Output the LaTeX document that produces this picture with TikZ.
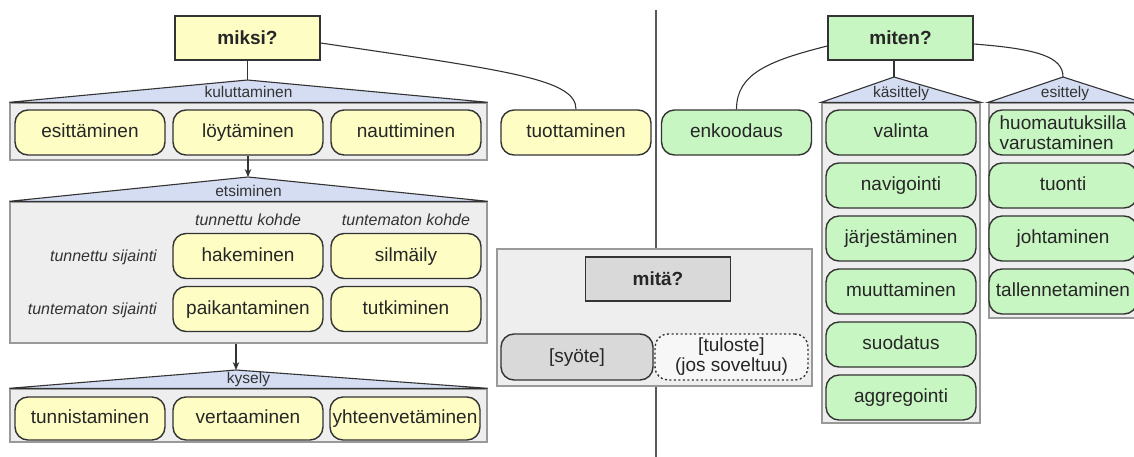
\documentclass[tikz,border=0pt]{standalone}
\usepackage{fontspec}
\setmainfont{Liberation Sans}
\usetikzlibrary{positioning, arrows, arrows.meta}
\definecolor{yfill}{HTML}{FDFDC4}
\definecolor{gfill}{HTML}{C8F6C2}
\definecolor{rooffill}{HTML}{D5DDF2}
\definecolor{grpfill}{HTML}{EEEEEE}
\definecolor{edge}{HTML}{333333}
\definecolor{qgray}{HTML}{D9D9D9}
\tikzset{
  % Set arrowhead
  >={Stealth[length=8pt, width=6.5pt]},
  % Action node
  act/.style={draw=edge, line width=1.4pt, rounded corners=13pt,
    minimum width=150pt, minimum height=45pt, inner sep=1pt,
    text height=14pt, text depth=4pt,
    align=center, text=black!85, font=\fontsize{19}{20}\selectfont},
  yact/.style={act, fill=yfill},
  gact/.style={act, fill=gfill},
  % Two lines of text in an action node
  twoline/.style={text height=, text depth=},
  % Question node
  qnode/.style={draw=edge, line width=1.4pt, minimum width=145pt,
    minimum height=44pt, text=black!85,
    font=\fontsize{19}{21}\selectfont\bfseries},
  % Group box
  grp/.style={draw=black!40, line width=1.4pt, fill=grpfill},
  % Roof over a group
  roof/.style={draw=edge, line width=1.1pt, fill=rooffill},
  rlabel/.style={inner sep=1pt, text height=11pt, text depth=3pt,
    text=black!80, font=\fontsize{15.5}{17}\selectfont},
  % Axis labels of the search grid
  axis/.style={inner sep=1pt, text=black!80,
    font=\fontsize{16}{18}\selectfont\itshape},
  % Connectors
  link/.style={draw=edge, line width=1.1pt},
  divider/.style={draw=black!65, line width=1.2pt},
}
\begin{document}
\begin{tikzpicture}[x=1pt, y=-1pt]
  \useasboundingbox (0,0) rectangle (1134,456);
  \draw[divider] (656,10) -- (656,460);

  % miksi?
  \node[qnode, fill=yfill] (miksi) at (247.5,38) {miksi?};

  \node[grp, minimum width=477pt, minimum height=57pt] (kul) at (248.5,131.5) {};
  \coordinate (kulTop) at (247.5,80);
  \draw[roof] (kul.north west) -- (kulTop) -- (kul.north east) -- cycle;
  \node[rlabel, above=1pt of kul.north] (kulLabel) {kuluttaminen};
  \draw[link] (miksi.south) -- (kulTop);
  \node[yact] (esit) at (90,132.5) {esittäminen};
  \node[yact] (loyt) at (248,132.5) {löytäminen};
  \node[yact] (naut) at (406,132.5) {nauttiminen};

  \node[yact] (tuot) at (576,132.5) {tuottaminen};
  \draw[link] ([yshift=-5pt]miksi.east) .. controls +(190,28) and +(0,-30) .. (tuot.north);

  \node[grp, minimum width=477pt, minimum height=141pt] (ets) at (248.5,272.5) {};
  \coordinate (etsTop) at (248,177);
  \draw[roof] (ets.north west) -- (etsTop) -- (ets.north east) -- cycle;
  \node[rlabel, above=1pt of ets.north] (etsLabel) {etsiminen};
  \draw[link, ->] (loyt.south) -- (etsTop);
  \node[axis] (kohde1) at (248,220) {tunnettu kohde};
  \node[axis] (kohde2) at (406,220) {tuntematon kohde};
  \node[axis, anchor=east] (sij1) at (158,257) {tunnettu sijainti};
  \node[axis, anchor=east] (sij2) at (158,310) {tuntematon sijainti};
  \node[yact] (hake) at (248,256) {hakeminen};
  \node[yact] (silm) at (406,256) {silmäily};
  \node[yact] (paik) at (248,309) {paikantaminen};
  \node[yact] (tutk) at (406,309) {tutkiminen};

  \node[grp, minimum width=477pt, minimum height=53pt] (kys) at (248.5,415.5) {};
  \coordinate (kysTop) at (236,370);
  \draw[roof] (kys.north west) -- (kysTop) -- (kys.north east) -- cycle;
  \node[rlabel, above=1pt of kys.north] (kysLabel) {kysely};
  \draw[link, ->] (ets.south -| kysTop) -- (kysTop);
  \node[yact, minimum height=43pt] (tunn) at (90,418.5) {tunnistaminen};
  \node[yact, minimum height=43pt] (vert) at (248,418.5) {vertaaminen};
  \node[yact, minimum height=43pt] (yhte) at (405,418.5) {yhteenvetäminen};

  % mitä?
  \node[grp, minimum width=315pt, minimum height=137pt] (mita) at (654.5,317.5) {};
  \node[qnode, fill=qgray] (mitaQ) at (658,279) {mitä?};
  \node[act, fill=qgray, minimum width=152pt, minimum height=46pt] (syote) at (577,357) {[syöte]};
  \node[act, twoline, fill=black!3, dash pattern=on 2pt off 2.5pt, minimum width=153pt,
    minimum height=46pt] (tulo) at (731.5,357) {[tuloste]\\(jos soveltuu)};

  % miten?
  \node[qnode, fill=gfill] (miten) at (900.5,38) {miten?};
  \node[gact] (enk) at (736.5,132.5) {enkoodaus};
  \draw[link] ([yshift=-8pt]miten.west) .. controls +(-60,15) and +(0,-35) .. (enk.north);

  \node[grp, minimum width=158pt, minimum height=320pt] (kas) at (901,263) {};
  \coordinate (kasTop) at (894,77);
  \draw[roof] (kas.north west) -- (kasTop) -- (kas.north east) -- cycle;
  \node[rlabel, above=1pt of kas.north] (kasLabel) {käsittely};
  \draw[link] (miten.south -| kasTop) -- (kasTop);
  \node[gact] (vali) at (901,132.5) {valinta};
  \node[gact] (navi) at (901,185.5) {navigointi};
  \node[gact] (jarj) at (901,238.5) {järjestäminen};
  \node[gact] (muut) at (901,291.5) {muuttaminen};
  \node[gact] (suod) at (901,344.5) {suodatus};
  \node[gact] (aggr) at (901,397.5) {aggregointi};

  \node[grp, minimum width=152pt, minimum height=215pt] (esi) at (1065,210.5) {};
  \coordinate (esiTop) at (1063,77);
  \draw[roof] (esi.north west) -- (esiTop) -- (esi.north east) -- cycle;
  \node[rlabel, above=1pt of esi.north] (esiLabel) {esittely};
  \draw[link] ([yshift=-6pt]miten.east) .. controls +(65,5) and +(0,-20) .. (esiTop);
  \node[gact, twoline, minimum width=148pt, align=left] (huom) at (1063,132.5) {huomautuksilla\\varustaminen};
  \node[gact, minimum width=148pt] (tuon) at (1063,185.5) {tuonti};
  \node[gact, minimum width=148pt] (joht) at (1063,238.5) {johtaminen};
  \node[gact, minimum width=148pt] (tall) at (1063,291.5) {tallennetaminen};
\end{tikzpicture}
\end{document}
